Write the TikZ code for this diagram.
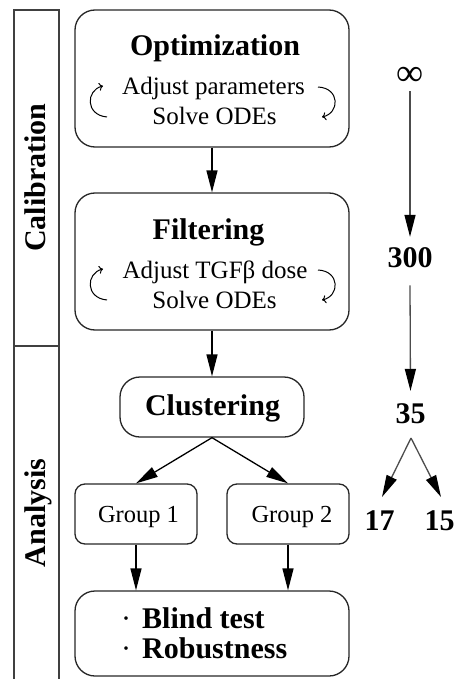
\documentclass[tikz,border=0pt]{standalone}
\usepackage{fontspec}
\setmainfont{Liberation Serif}
\usetikzlibrary{arrows.meta}
\begin{document}
\begin{tikzpicture}[x=1pt,y=-1pt,
  box/.style={draw=black!85, line width=1.3pt, rounded corners=20pt, inner sep=0pt},
  gbox/.style={box, rounded corners=10pt},
  arr/.style={line width=1.3pt, -{Triangle[length=22pt,width=11pt,color=black]}},
  arrg/.style={arr, draw=black!70},
  looparr/.style={line width=1pt, -{To[length=4pt,width=8pt]}},
  ttl/.style={font=\fontsize{30}{36}\selectfont\bfseries, anchor=base, inner sep=0pt},
  txt/.style={font=\fontsize{25}{30}\selectfont, anchor=base, inner sep=0pt},
  band/.style={draw=black!75, line width=1.2pt},
]
\useasboundingbox (0,0) rectangle (460,679);

% left band
\draw[band] (14,679) -- (14,10) -- (59,10) -- (59,679);
\draw[band] (14,346) -- (59,346);
\node[ttl, rotate=90] (calib) at (45,177.5) {Calibration};
\node[ttl, rotate=90] (anal) at (45,513) {Analysis};

% boxes
\node[box, minimum width=274pt, minimum height=137pt] (opt) at (212,78.5) {};
\node[box, minimum width=274pt, minimum height=137pt] (filt) at (212,261.5) {};
\node[box, minimum width=184pt, minimum height=60pt] (clu) at (212,407) {};
\node[gbox, minimum width=122pt, minimum height=60pt] (g1) at (136,514) {};
\node[gbox, minimum width=122pt, minimum height=60pt] (g2) at (288,514) {};
\node[box, minimum width=274pt, minimum height=85pt] (bot) at (212,633.5) {};

% texts
\node[ttl] (optT) at (215,56) {Optimization};
\node[txt] (optA) at (213.5,95) {Adjust parameters};
\node[txt] (optS) at (214.5,125) {Solve ODEs};
\node[ttl] (filT) at (208.5,239) {Filtering};
\node[txt] (filA) at (215,278) {Adjust TGFβ dose};
\node[txt] (filS) at (214.5,308) {Solve ODEs};
\node[ttl] (cluT) at (212.5,415) {Clustering};
\node[txt, font=\fontsize{24.5}{30}\selectfont] (g1T) at (138.5,522) {Group 1};
\node[txt, font=\fontsize{24.5}{30}\selectfont] (g2T) at (292,522) {Group 2};
\node[ttl, anchor=base west] (b1) at (121,628) {\mdseries·\hspace{11pt}\bfseries Blind test};
\node[ttl, anchor=base west] (b2) at (121,658) {\mdseries·\hspace{11pt}\bfseries Robustness};

% loop arrows
\draw[looparr] (107,117) .. controls (85,115) and (86,90) .. (103,86);
\draw[looparr] (318,87) .. controls (340,88) and (340,113) .. (322,117);
\draw[looparr] (107,300) .. controls (85,298) and (86,273) .. (103,269);
\draw[looparr] (318,270) .. controls (340,271) and (340,296) .. (322,300);

% main arrows
\draw[arr] (opt.south) -- (filt.north);
\draw[arr] (filt.south) -- (clu.north);
\draw[arr] (clu.south) -- (g1.north);
\draw[arr] (clu.south) -- (g2.north);
\draw[arr] (g1.south) -- (g1.south |- bot.north);
\draw[arr] (g2.south) -- (g2.south |- bot.north);

% right column
\node[font=\fontsize{38}{40}\selectfont, inner sep=0pt] (inf) at (410,76) {∞};
\node[ttl] (n300) at (410,267) {300};
\node[ttl] (n35) at (410.5,423) {35};
\node[ttl] (n17) at (379.5,530) {17};
\node[ttl] (n15) at (439.5,530) {15};
\coordinate (c35) at (411,438);
\draw[arrg] ([yshift=-6pt]inf.south) -- ([yshift=10pt]n300.north);
\draw[arrg] ([yshift=-18pt]n300.south) -- ([yshift=12pt]n35.north);
\draw[arrg] (c35) -- (382,497);
\draw[arrg] (c35) -- (441,497);
\end{tikzpicture}
\end{document}
